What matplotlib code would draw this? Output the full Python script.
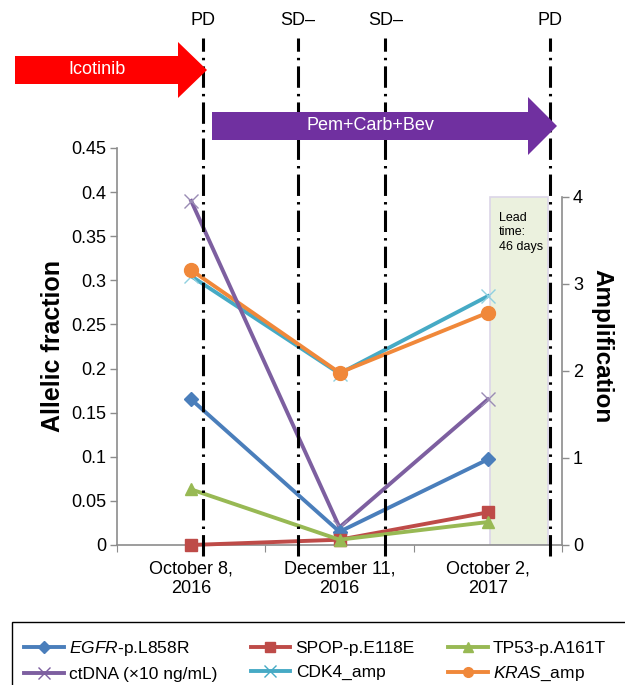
import matplotlib
matplotlib.use("Agg")
import matplotlib.pyplot as plt
import matplotlib.patches as mpatches
from matplotlib.lines import Line2D
from matplotlib.transforms import blended_transform_factory

plt.rcParams["font.family"] = ["Liberation Sans", "DejaVu Sans"]
plt.rcParams["mathtext.fontset"] = "custom"
plt.rcParams["mathtext.it"] = "Liberation Sans:italic"
plt.rcParams["mathtext.rm"] = "Liberation Sans"

# Data
dates = ["October 8,\n2016", "December 11,\n2016", "October 2,\n2017"]
egfr = [0.165, 0.015, 0.097]
spop = [0.0, 0.006, 0.037]
tp53 = [0.063, 0.006, 0.026]
ctdna = [0.39, 0.02, 0.165]
cdk4_amp = [3.09, 1.97, 2.86]
kras_amp = [3.16, 1.98, 2.67]

# clinical events (position on the category axis) and response labels
event_pos = [0.58, 1.22, 1.81, 2.92]
event_labels = ["PD", "SD\u2013", "SD\u2013", "PD"]

left_ticks = [0, 0.05, 0.1, 0.15, 0.2, 0.25, 0.3, 0.35, 0.4, 0.45]
left_tick_labels = ["0", "0.05", "0.1", "0.15", "0.2", "0.25", "0.3", "0.35", "0.4", "0.45"]
right_ticks = [0, 1, 2, 3, 4]

c_egfr = "#4a7ebb"
c_spop = "#be4b48"
c_tp53 = "#98b954"
c_ctdna = "#7d5fa0"
c_cdk4 = "#46aac5"
c_kras = "#f0883a"
grey = "#8c8c8c"

fig = plt.figure(figsize=(6.25, 6.85), dpi=100)
ax = fig.add_axes([0.1872, 0.2044, 0.712, 0.5796])
ax2 = ax.twinx()

xs = [0.5, 1.5, 2.5]
lw = 2.8

# lead time box
ax2.add_patch(mpatches.Rectangle((2.515, 0), 0.39, 4, facecolor="#ebf1de",
                                 edgecolor="#dcd6e8", lw=1.2, zorder=0))
ax2.text(2.575, 3.83, "Lead\ntime:\n46 days", fontsize=9, va="top", ha="left",
         linespacing=1.3)

ax.plot(xs, ctdna, color=c_ctdna, lw=lw, marker="x", ms=10, mew=1,
        mec="#9a8cb5", zorder=5, clip_on=False)
ax.plot(xs, egfr, color=c_egfr, lw=lw, marker="D", ms=7, zorder=6, clip_on=False)
ax.plot(xs, spop, color=c_spop, lw=lw, marker="s", ms=9, zorder=6, clip_on=False)
ax.plot(xs, tp53, color=c_tp53, lw=lw, marker="^", ms=9, zorder=7, clip_on=False)
ax2.plot(xs, cdk4_amp, color=c_cdk4, lw=lw, marker="x", ms=10, mew=1,
         mec="#8fd0e0", zorder=5)
ax2.plot(xs, kras_amp, color=c_kras, lw=lw, marker="o", ms=10, zorder=6)

ax.set_zorder(ax2.get_zorder() + 1)
ax.patch.set_visible(False)

ax.set_xlim(0, 3)
ax.set_ylim(0, 0.45)
ax2.set_ylim(0, 4 * 397 / 348)

ax.set_yticks(left_ticks)
ax.set_yticklabels(left_tick_labels, fontsize=13)
ax2.set_yticks(right_ticks)
ax2.set_yticklabels([str(t) for t in right_ticks], fontsize=13)
ax.set_xticks([0, 1, 2, 3])
ax.set_xticklabels([])
ax.set_xticks(xs, minor=True)
ax.set_xticklabels(dates, minor=True, fontsize=13)
ax.tick_params(axis="x", which="minor", length=0, pad=11)
ax.tick_params(axis="x", which="major", length=5, color=grey, direction="out")
ax.tick_params(axis="y", length=5, color=grey, width=1, pad=3)
ax2.tick_params(axis="y", length=5, color=grey, width=1, pad=3)

for a in (ax, ax2):
    a.spines["top"].set_visible(False)
    for s in ("left", "right", "bottom"):
        a.spines[s].set_color(grey)
        a.spines[s].set_linewidth(1.2)
ax.spines["right"].set_visible(False)
ax2.spines["left"].set_visible(False)
ax2.spines["bottom"].set_visible(False)
ax2.spines["right"].set_bounds(0, 4)

ax.set_ylabel("Allelic fraction", fontsize=18, fontweight="bold", labelpad=4)
ax2.set_ylabel("Amplification", fontsize=17.5, fontweight="bold", rotation=-90,
               labelpad=22)

# event lines
trans = blended_transform_factory(ax.transData, ax.transAxes)
for p, lab in zip(event_pos, event_labels):
    ax.add_line(Line2D([p, p], [-0.028, 1.277], transform=trans, color="black",
                       lw=2.2, dashes=(7, 2, 0.8, 2), clip_on=False, zorder=10))
    ax.text(p, 1.32, lab, transform=trans, ha="center", va="center", fontsize=13)


def arrow(x0, x1, xh, yc, hb, hh, color, label):
    W, H = 625, 685
    pts = [(x0, yc - hb), (xh, yc - hb), (xh, yc - hh), (x1, yc), (xh, yc + hh),
           (xh, yc + hb), (x0, yc + hb)]
    pts = [(x / W, 1 - y / H) for x, y in pts]
    fig.patches.append(mpatches.Polygon(pts, closed=True, facecolor=color,
                                        edgecolor="none", transform=fig.transFigure))
    fig.text((x0 + xh) / 2 / W, 1 - yc / H, label, color="white", fontsize=13,
             ha="center", va="center")


arrow(15, 207, 178, 70, 14, 28, "#ff0000", "Icotinib")
arrow(212, 557, 528, 126, 14, 29, "#7030a0", "Pem+Carb+Bev")

# legend
handles = [
    Line2D([], [], color=c_egfr, lw=lw, marker="D", ms=6),
    Line2D([], [], color=c_ctdna, lw=lw, marker="x", ms=9, mew=1),
    Line2D([], [], color=c_spop, lw=lw, marker="s", ms=7),
    Line2D([], [], color=c_cdk4, lw=lw, marker="x", ms=9, mew=1),
    Line2D([], [], color=c_tp53, lw=lw, marker="^", ms=7),
    Line2D([], [], color=c_kras, lw=lw, marker="o", ms=7),
]
labels = ["$\\it{EGFR}$-p.L858R", "ctDNA (\u00d710 ng/mL)", "SPOP-p.E118E",
          "CDK4_amp", "TP53-p.A161T", "$\\it{KRAS}$_amp"]
fig.legend(handles, labels, ncol=3, loc="upper left",
           bbox_to_anchor=(24 / 625, 1 - 639 / 685), frameon=False, fontsize=12.5,
           handlelength=2.3, handletextpad=0.3, columnspacing=1.9,
           labelspacing=0.5, borderaxespad=0, borderpad=0)
fig.patches.append(mpatches.Rectangle((12 / 625, -0.05), 1.0, (685 - 622) / 685 + 0.05,
                                      transform=fig.transFigure, facecolor="none",
                                      edgecolor="black", lw=1))

fig.savefig("out.png", dpi=100)
